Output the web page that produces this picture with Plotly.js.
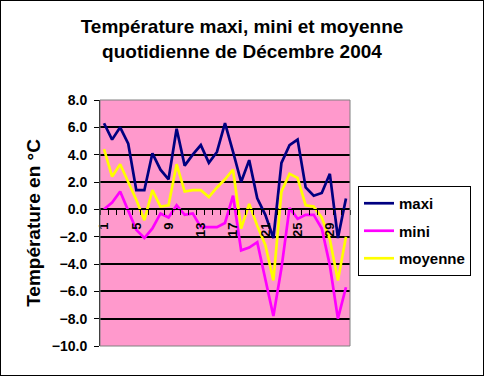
<!DOCTYPE html>
<html>
<head>
<meta charset="utf-8">
<script src="https://cdn.plot.ly/plotly-3.0.1.min.js"></script>
<style>
  html, body { margin: 0; padding: 0; background: #ffffff; }
  #chart { width: 482px; height: 374px; border: 1px solid #000000; }
</style>
</head>
<body>
<div id="chart"></div>
<script>
// Days of December 2004
const days = [1,2,3,4,5,6,7,8,9,10,11,12,13,14,15,16,17,18,19,20,21,22,23,24,25,26,27,28,29,30,31];
const dayTickVals = [1,5,9,13,17,21,25,29];
const dayTickText = ["1","5","9","13","17","21","25","29"];

// Temperatures (°C)
const maxi = [6.3, 5.1, 6.0, 4.8, 1.4, 1.4, 4.1, 2.9, 2.2, 5.9, 3.2, 4.0, 4.7, 3.4, 4.2, 6.3, 4.2, 2.0, 3.6, 0.8, -0.4, -2.1, 3.4, 4.7, 5.1, 1.6, 1.0, 1.2, 2.6, -2.1, 0.8];
const mini = [0.0, 0.5, 1.3, -0.1, -1.5, -2.1, -1.4, -0.3, -0.6, 0.3, -0.4, -0.3, -1.3, -1.3, -1.3, -1.0, 1.0, -3.0, -2.8, -2.4, -5.0, -7.8, -4.3, 0.1, -0.7, -0.4, -0.4, -1.4, -4.1, -8.0, -5.7];
const moyenne = [4.4, 2.4, 3.3, 2.0, 0.7, -0.8, 1.4, 0.2, 0.3, 3.3, 1.3, 1.4, 1.4, 0.9, 1.6, 2.2, 2.9, -1.4, 0.4, -1.2, -2.6, -5.2, 1.3, 2.6, 2.3, 0.3, 0.2, -0.6, -2.2, -5.2, -2.0];

const seriesNames = ["maxi", "mini", "moyenne"];
const seriesColors = ["#000080", "#FF00FF", "#FFFF00"];
const seriesData = [maxi, mini, moyenne];

const FONT = "Liberation Sans, Arial, sans-serif";

const traces = seriesData.map((vals, i) => ({
  type: "scatter",
  mode: "lines",
  x: days,
  y: vals,
  name: seriesNames[i],
  legendgroup: seriesNames[i],
  line: { color: seriesColors[i], width: 2.7 },
  hoverinfo: "skip"
}));

const layout = {
  width: 482,
  height: 374,
  margin: { l: 99, r: 133, t: 99, b: 29 },
  paper_bgcolor: "#ffffff",
  plot_bgcolor: "#FF99CC",
  showlegend: true,
  title: {
    text: "Température maxi, mini et moyenne<br>quotidienne de Décembre 2004",
    font: { family: FONT, size: 19, color: "#000000", weight: "bold" },
    x: 0.5, xanchor: "center", xref: "container",
    y: 1 - 32 / 374, yanchor: "top", yref: "container"
  },
  xaxis: {
    type: "linear",
    range: [0.5, 31.5],
    anchor: "free",
    position: 10 / 18,
    tickmode: "array",
    tickvals: dayTickVals,
    ticktext: dayTickText,
    tickangle: -90,
    ticks: "outside",
    ticklen: 5,
    tickcolor: "rgba(0,0,0,0)",
    minor: { ticks: "outside", ticklen: 5, tickcolor: "#000000", tickwidth: 1, tick0: 0.5, dtick: 1, showgrid: false },
    tickfont: { family: FONT, size: 13, color: "#000000", weight: "bold" },
    ticklabelstandoff: 2,
    showgrid: false,
    zeroline: false,
    showline: true,
    linecolor: "#000000",
    linewidth: 1,
    fixedrange: true
  },
  yaxis: {
    range: [-10, 8],
    dtick: 2,
    tick0: 0,
    tickformat: ".1f",
    ticks: "outside",
    ticklen: 5,
    tickcolor: "#000000",
    tickfont: { family: FONT, size: 14, color: "#000000", weight: "bold" },
    ticklabelstandoff: 4,
    showgrid: true,
    gridcolor: "#000000",
    gridwidth: 2,
    zeroline: false,
    showline: true,
    linecolor: "#000000",
    linewidth: 1,
    title: {
      text: "Température en °C",
      font: { family: FONT, size: 19, color: "#000000", weight: "bold" },
      standoff: 6
    },
    fixedrange: true
  },
  legend: {
    x: (358 - 100) / 250,
    xanchor: "left",
    y: (346 - 186) / 246,
    yanchor: "top",
    bgcolor: "#ffffff",
    bordercolor: "#000000",
    borderwidth: 1,
    font: { family: FONT, size: 15, color: "#000000", weight: "bold" },
    traceorder: "grouped",
    tracegroupgap: 5,
    itemwidth: 30
  },
  shapes: [
    { type: "rect", xref: "paper", yref: "paper", x0: 0, x1: 1, y0: 0, y1: 1,
      line: { color: "#808080", width: 1 }, fillcolor: "rgba(0,0,0,0)", layer: "above" }
  ]
};

Plotly.newPlot("chart", traces, layout, { staticPlot: true, displayModeBar: false });
</script>
</body>
</html>
